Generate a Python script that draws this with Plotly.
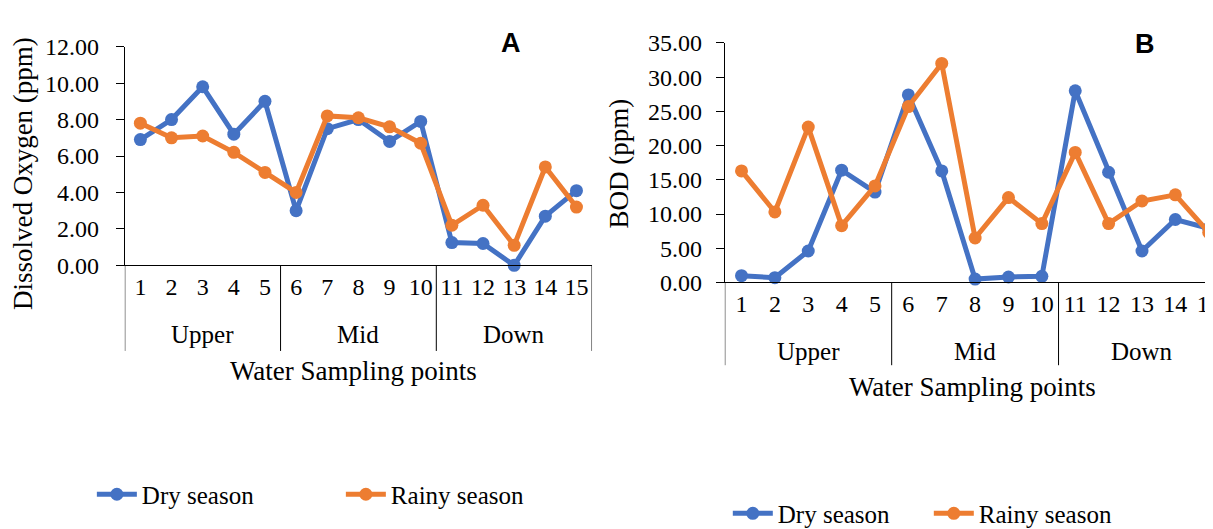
import plotly.graph_objects as go

W, H = 1213, 529

points = list(range(1, 16))
point_labels = [str(p) for p in points]
groups = ["Upper", "Mid", "Down"]
group_centers = [3, 8, 13]
dividers = [0.5, 5.5, 10.5, 15.5]

do_dry = [6.9, 8.0, 9.8, 7.2, 9.0, 3.0, 7.5, 8.0, 6.8, 7.9, 1.25, 1.2, 0.0, 2.7, 4.1]
do_rainy = [7.8, 7.0, 7.1, 6.2, 5.1, 4.0, 8.2, 8.1, 7.6, 6.7, 2.2, 3.3, 1.1, 5.4, 3.2]
bod_dry = [1.0, 0.7, 4.6, 16.4, 13.2, 27.4, 16.3, 0.5, 0.8, 0.9, 28.0, 16.1, 4.6, 9.2, 7.9]
bod_rainy = [16.3, 10.3, 22.7, 8.3, 14.1, 25.7, 32.0, 6.5, 12.4, 8.6, 19.0, 8.6, 11.9, 12.8, 7.3]

do_ticks = [0, 2, 4, 6, 8, 10, 12]
bod_ticks = [0, 5, 10, 15, 20, 25, 30, 35]

BLUE = "#4472C4"
ORANGE = "#ED7D31"
FONT = "Times New Roman, Liberation Serif, serif"


def px_x(x):
    return x / W


def px_y(y):
    return 1 - y / H


fig = go.Figure()

for xa, ya, leg, dry, rainy in [("x", "y", "legend", do_dry, do_rainy),
                                 ("x2", "y2", "legend2", bod_dry, bod_rainy)]:
    fig.add_trace(go.Scatter(x=points, y=dry, name="Dry season", mode="lines+markers",
                             line=dict(color=BLUE, width=5), marker=dict(size=13, color=BLUE),
                             xaxis=xa, yaxis=ya, legend=leg, cliponaxis=False))
    fig.add_trace(go.Scatter(x=points, y=rainy, name="Rainy season", mode="lines+markers",
                             line=dict(color=ORANGE, width=5), marker=dict(size=13, color=ORANGE),
                             xaxis=xa, yaxis=ya, legend=leg, cliponaxis=False))

# Geometry (pixels)
A = dict(left=117, right=585, top=27, bottom=257, div_bottom=347, grp_y=330, title_y=368,
         title_x=346, ytitle_x=15, ytitle_y=160, letter_x=504, letter_y=23, standoff=12)
B = dict(left=718, right=1213, top=23, bottom=275, div_bottom=362, grp_y=348, title_y=385,
         title_x=966, ytitle_x=612, ytitle_y=150, letter_x=1139, letter_y=24, standoff=9)

spacingB = (1203 - 735) / 14.0
rangeB_end = 0.5 + (B["right"] - B["left"]) / spacingB

axis_common = dict(showgrid=False, zeroline=False, showline=True, linecolor="black", linewidth=1,
                   tickfont=dict(family=FONT, size=24, color="black"), ticklabeloverflow="allow")

fig.update_layout(
    width=W, height=H, margin=dict(l=0, r=0, t=0, b=0),
    paper_bgcolor="white", plot_bgcolor="white",
    font=dict(family=FONT, color="black"),
    xaxis=dict(domain=[px_x(A["left"]), px_x(A["right"])], range=[0.5, 15.5],
               tickvals=points, ticktext=point_labels, ticks="", ticklabelstandoff=0,
               anchor="y", **axis_common),
    yaxis=dict(domain=[px_y(A["bottom"]), px_y(A["top"])], range=[0, 12],
               tickvals=do_ticks, ticktext=[f"{v:.2f}" for v in do_ticks], ticks="outside",
               ticklen=8, tickcolor="black", ticklabelstandoff=A["standoff"], anchor="x",
               **axis_common),
    xaxis2=dict(domain=[px_x(B["left"]), 1.0], range=[0.5, rangeB_end],
                tickvals=points, ticktext=point_labels, ticks="", ticklabelstandoff=0,
                anchor="y2", **axis_common),
    yaxis2=dict(domain=[px_y(B["bottom"]), px_y(B["top"])], range=[0, 35],
                tickvals=bod_ticks, ticktext=[f"{v:.2f}" for v in bod_ticks], ticks="outside",
                ticklen=8, tickcolor="black", ticklabelstandoff=B["standoff"], anchor="x2",
                **axis_common),
    legend=dict(orientation="h", x=px_x(84), y=px_y(498), xanchor="left", yanchor="middle",
                font=dict(family=FONT, size=25, color="black"), entrywidth=194,
                bgcolor="rgba(0,0,0,0)", itemwidth=40),
    legend2=dict(orientation="h", x=px_x(721), y=px_y(518), xanchor="left", yanchor="middle",
                 font=dict(family=FONT, size=25, color="black"), entrywidth=146,
                 bgcolor="rgba(0,0,0,0)", itemwidth=40),
    showlegend=True,
)

shapes = []
annotations = []
for xa, G, divs in [("x", A, dividers), ("x2", B, dividers[:3])]:
    for d in divs:
        shapes.append(dict(type="line", xref=xa, yref="paper", x0=d, x1=d,
                           y0=px_y(G["bottom"]), y1=px_y(G["div_bottom"]),
                           line=dict(color="black", width=1)))
    for g, c in zip(groups, group_centers):
        annotations.append(dict(xref=xa, yref="paper", x=c, y=px_y(G["grp_y"]), text=g,
                                showarrow=False, xanchor="center", yanchor="middle",
                                font=dict(family=FONT, size=25, color="black")))
    annotations.append(dict(xref="paper", yref="paper",
                            x=px_x(G["title_x"]), y=px_y(G["title_y"]),
                            text="Water Sampling points", showarrow=False,
                            xanchor="center", yanchor="middle",
                            font=dict(family=FONT, size=27, color="black")))
    annotations.append(dict(xref="paper", yref="paper", x=px_x(G["ytitle_x"]), y=px_y(G["ytitle_y"]),
                            text="Dissolved Oxygen (ppm)" if xa == "x" else "BOD (ppm)",
                            showarrow=False, textangle=-90, xanchor="center", yanchor="middle",
                            font=dict(family=FONT, size=27, color="black")))
    annotations.append(dict(xref="paper", yref="paper", x=px_x(G["letter_x"]), y=px_y(G["letter_y"]),
                            text="<b>A</b>" if xa == "x" else "<b>B</b>",
                            showarrow=False, xanchor="center", yanchor="middle",
                            font=dict(family="Liberation Sans, Arial, sans-serif", size=27,
                                      color="black")))

fig.update_layout(shapes=shapes, annotations=annotations)

fig.write_html("out.html")
